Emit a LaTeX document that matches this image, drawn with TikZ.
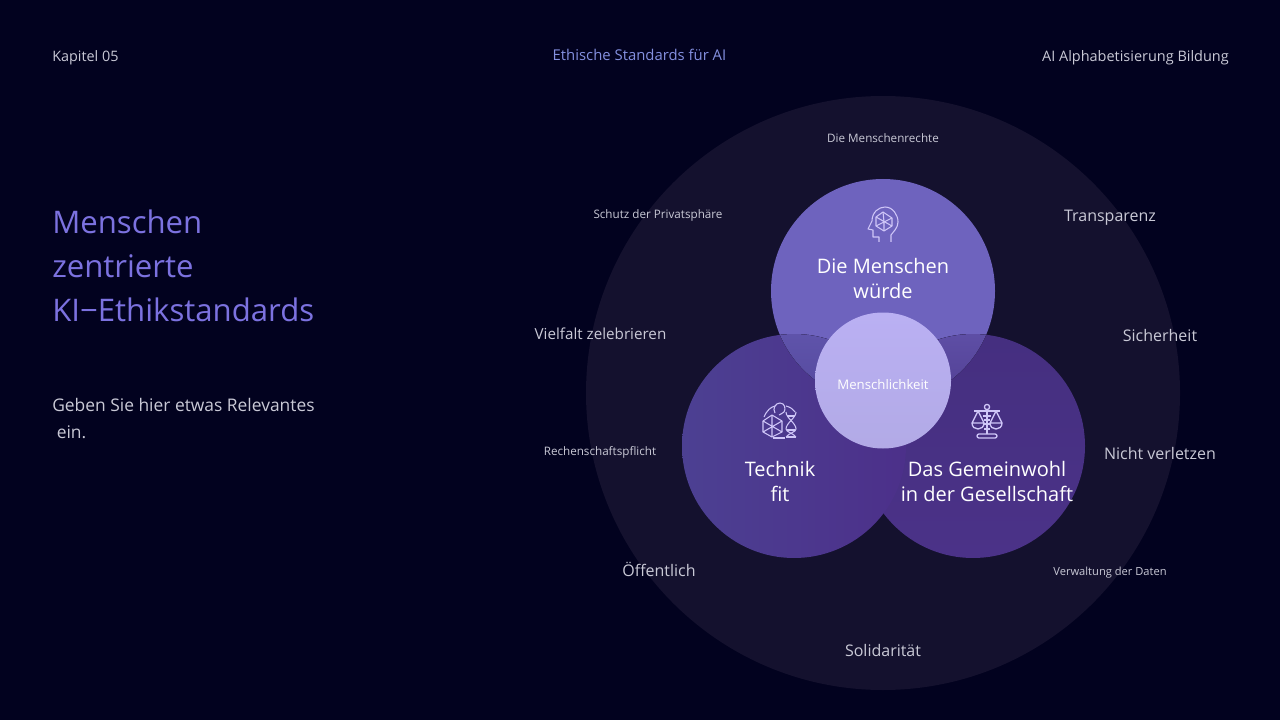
\documentclass[tikz,border=0pt]{standalone}
\usepackage{fontspec}
\setmainfont{Open Sans}
\usetikzlibrary{calc}
\definecolor{color_bg}{HTML}{02021F}
\definecolor{color_ring}{HTML}{14112E}
\definecolor{color_top}{HTML}{6E63BE}
\definecolor{color_left_a}{HTML}{4C4092}
\definecolor{color_left_b}{HTML}{4C308A}
\definecolor{color_right_a}{HTML}{452F80}
\definecolor{color_right_b}{HTML}{4B3288}
\definecolor{color_core_a}{HTML}{BAB0F3}
\definecolor{color_core_b}{HTML}{B2AAE6}
\definecolor{color_title}{HTML}{7C72E0}
\definecolor{color_head}{HTML}{8490E0}
\definecolor{color_soft}{HTML}{C9C9D6}
\definecolor{color_icon}{HTML}{CFC6F8}
\tikzset{
    lobe/.style={circle,minimum size=168pt,inner sep=0pt},
    smalltag/.style={color_soft,font=\fontsize{8.75}{11}\selectfont},
    bigtag/.style={color_soft,font=\fontsize{12}{14}\selectfont},
    lobetext/.style={white,align=center,font=\fontsize{15}{18.7}\selectfont},
    icon/.style={color_icon,line width=0.8pt,line join=round},
}
\begin{document}
\begin{tikzpicture}[x=0.75pt,y=-0.75pt]
        \useasboundingbox (0,0) rectangle (1280,720);
        \fill[color_bg] (0,0) rectangle (1280,720);
        \node[circle,fill=color_ring,minimum size=445.5pt,inner sep=0pt] (ring) at (883,393) {};
        % the three lobes
        \node[lobe,fill=color_top] (top) at (883,291) {};
        \node[lobe,top color=color_right_a,bottom color=color_right_b] (right) at (973,446) {};
        \node[lobe,left color=color_left_a,right color=color_left_b] (left) at (794,446) {};
        % the overlaps with the top lobe
        \begin{scope}
            \clip (883,291) circle (112);
            \begin{scope}
                \clip (794,446) circle (112);
                \fill[top color=color_top!55!color_left_a,bottom color=color_top!25!color_left_a] (770,334) rectangle (900,403);
            \end{scope}
            \begin{scope}
                \clip (973,446) circle (112);
                \fill[top color=color_top!60!color_right_a,bottom color=color_top!30!color_right_a] (866,334) rectangle (996,403);
            \end{scope}
        \end{scope}
        \node[circle,minimum size=102pt,inner sep=0pt,top color=color_core_a,bottom color=color_core_b] (core) at (883,380.5) {};
        % header
        \node[anchor=west,inner sep=0pt,color_soft,font=\fontsize{10.8}{12}\selectfont] (chapter) at (52,58) {Kapitel 05};
        \node[color_head,font=\fontsize{11.15}{12}\selectfont] (head) at (639.5,55) {Ethische Standards für AI};
        \node[anchor=east,inner sep=0pt,color_soft,font=\fontsize{10.85}{12}\selectfont] (course) at (1229,58) {AI Alphabetisierung Bildung};
        % left column
        \node[anchor=west,color_title,font=\fontsize{23.35}{33}\selectfont,align=left,inner sep=0pt] (title) at (52,266) {Menschen\\zentrierte\\KI−Ethikstandards};
        \node[anchor=west,color_soft,font=\fontsize{13.05}{20}\selectfont,align=left,inner sep=0pt] (lead) at (52,418.5) {Geben Sie hier etwas Relevantes\\\ ein.};
        % lobe texts
        \node[lobetext] (toptext) at (883,278.3) {Die Menschen\\würde};
        \node[lobetext] (lefttext) at (780,481.3) {Technik\\fit};
        \node[lobetext] (righttext) at (987,481.3) {Das Gemeinwohl\\in der Gesellschaft};
        \node[white,font=\fontsize{9.9}{11}\selectfont] (coretext) at (883,384.5) {Menschlichkeit};
        % outer tags
        \node[smalltag] (t1) at (883,138) {Die Menschenrechte};
        \node[smalltag] (t2) at (658,215) {Schutz der Privatsphäre};
        \node[bigtag] (t3) at (1110,218) {Transparenz};
        \node[bigtag,font=\fontsize{11.4}{14}\selectfont] (t4) at (600.5,334) {Vielfalt zelebrieren};
        \node[bigtag] (t5) at (1160,335) {Sicherheit};
        \node[smalltag] (t6) at (600,452) {Rechenschaftspflicht};
        \node[bigtag] (t7) at (1160,453) {Nicht verletzen};
        \node[bigtag] (t8) at (659,569.5) {Öffentlich};
        \node[smalltag,font=\fontsize{8.35}{11}\selectfont] (t9) at (1110,572.5) {Verwaltung der Daten};
        \node[bigtag] (t10) at (883,650) {Solidarität};
        % head icon
        \begin{scope}[shift={(883,224)},icon]
            \draw (-4,18) -- (-4,13) -- (-10,13) -- (-10,6) -- (-15,5) -- (-11,-3) .. controls (-11,-12) and (-4,-17) .. (2,-17) .. controls (10,-17) and (15,-9) .. (15,-2) .. controls (15,4) and (10,8) .. (8,11) -- (8,18);
            \draw (0,-12) -- (9,-6) -- (9,2) -- (1,7) -- (-7,2) -- (-7,-7) -- cycle;
            \draw (-7,-7) -- (9,2) (9,-6) -- (-7,2) (0,-12) -- (1,-2) -- (1,7);
        \end{scope}
        % globe and helix icon
        \begin{scope}[shift={(779,421)},icon]
            \draw (-16,0) -- (-16,11) -- (-7,16) -- (3,11) -- (3,0) -- (-7,-6) -- cycle;
            \draw (-16,0) -- (3,11) (-16,11) -- (3,0) (-7,-6) -- (-7,16);
            \draw (-15,-4) .. controls (-12,-11) and (-8,-14) .. (-4,-15);
            \draw (7,-15) .. controls (11,-14) and (14,-12) .. (16,-9);
            \draw (-4,-8) .. controls (-7,-13) and (-3,-18) .. (1,-18) .. controls (6,-18) and (7,-12) .. (5,-9) .. controls (3,-6) and (1,-8) .. (0,-6);
            \draw (7,-9) .. controls (7,-3) and (17,2) .. (17,8) .. controls (17,11) and (10,12) .. (7,16);
            \draw (17,-9) .. controls (17,-3) and (7,2) .. (7,8) .. controls (7,11) and (14,12) .. (17,16);
            \draw (8,-5) -- (16,-5) (8,9) -- (16,9) (7,16) -- (17,16);
            \draw (-6,17) -- (6,17);
        \end{scope}
        % scales icon
        \begin{scope}[shift={(987,421)},icon,line width=1pt]
            \draw (-13,-10) -- (13,-10);
            \draw (0,-14) circle (2.6);
            \draw (0,-10) -- (0,13);
            \draw (-4,-5) -- (4,-5) (-3,-1) -- (3,-1) (-3,3) -- (3,3) (-3,8) -- (3,8);
            \draw (-9,-10) -- (-15,2) (-9,-10) -- (-3,2) (-15,2) .. controls (-15,10) and (-3,10) .. (-3,2) -- cycle;
            \draw (9,-10) -- (3,2) (9,-10) -- (15,2) (3,2) .. controls (3,10) and (15,10) .. (15,2) -- cycle;
            \draw[rounded corners=1.5] (-10,13) rectangle (10,17);
        \end{scope}
\end{tikzpicture}
\end{document}
